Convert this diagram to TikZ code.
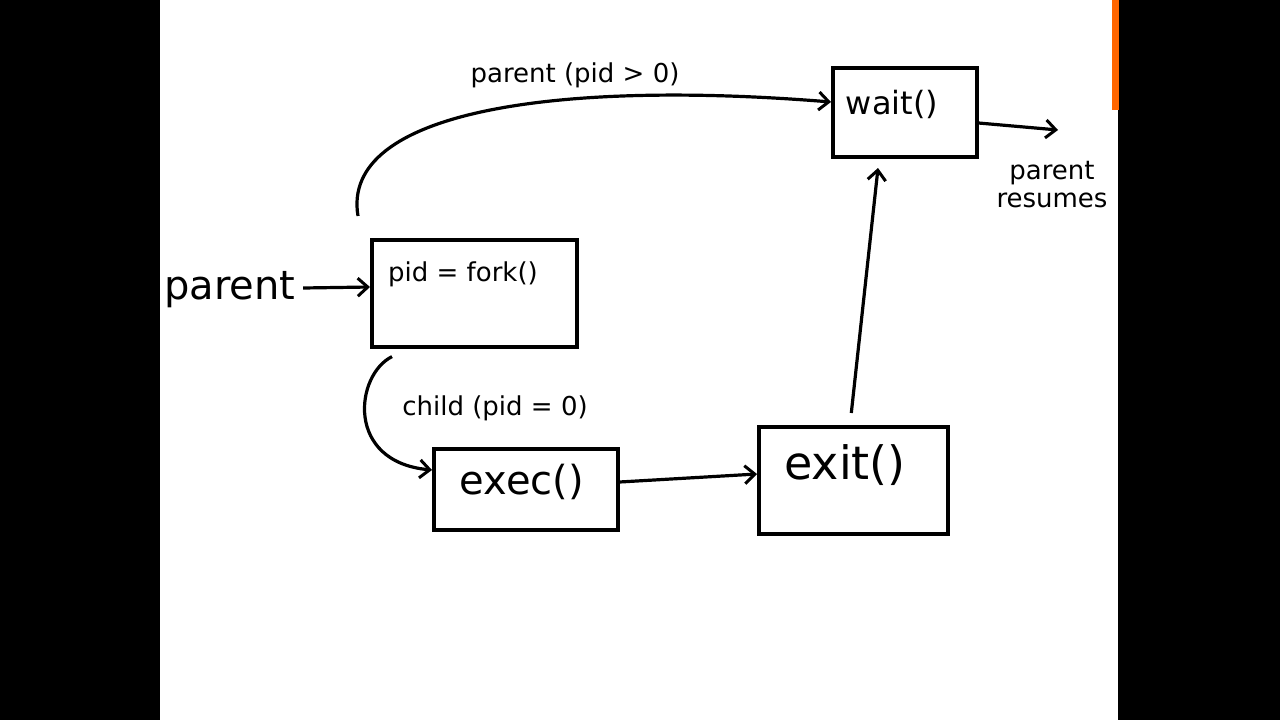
\documentclass[tikz,border=0pt]{standalone}
\usepackage{fontspec}
\setmainfont{DejaVu Sans}
\usetikzlibrary{arrows.meta}
\begin{document}
\begin{tikzpicture}[x=1pt,y=-1pt,
  box/.style={draw=black,line width=3.6pt,inner sep=0pt,anchor=north west},
  arr/.style={draw=black,line width=3.2pt,-{Straight Barb[length=10pt,width=18pt,line width=3pt]}},
  lbl/.style={font=\fontsize{26}{28}\selectfont}]
\useasboundingbox (0,0) rectangle (1280,720);
\fill[black] (0,0) rectangle (1280,720);
\fill[white] (160,0) rectangle (1118,720);
\fill[orange!80!red] (1112,0) rectangle (1119,110);
\node[box,minimum width=205pt,minimum height=107pt] (fork) at (370,238) {};
\node[lbl,font=\fontsize{26}{28}\selectfont] at (463,274) {pid = fork()};
\node[box,minimum width=184pt,minimum height=81pt] (exec) at (432,447) {};
\node[lbl,font=\fontsize{40}{42}\selectfont] at (522,482) {exec()};
\node[box,minimum width=189pt,minimum height=107pt] (exit) at (757,425) {};
\node[lbl,font=\fontsize{46}{48}\selectfont] at (845,465) {exit()};
\node[box,minimum width=144pt,minimum height=89pt] (wait) at (831,66) {};
\node[lbl,font=\fontsize{32}{34}\selectfont] at (892,104) {wait()};
\node[lbl,font=\fontsize{40}{42}\selectfont] (ptxt) at (230,290) {parent};
\node[lbl] (l1) at (575,75) {parent (pid > 0)};
\node[lbl] (l2) at (495,408) {child (pid = 0)};
\node[lbl,align=center,font=\fontsize{26}{28}\selectfont] (res) at (1052,185) {parent\\resumes};
\coordinate (re) at (1058,130);
\draw[arr] (ptxt.east) ++(4,-2) -- (fork.west |- 0,287);
\draw[arr] (fork.north west) ++(-12,-22) .. controls (340,110) and (560,80) .. (wait.west |- 0,102);
\draw[arr] (fork.south west) ++(22,8) .. controls (355,375) and (345,462) .. (exec.west |- 0,470);
\draw[arr] (exec.east |- 0,482) -- (exit.west |- 0,474);
\draw[arr] (exit.north) ++(-2,-12) -- ([xshift=47pt]wait.south west |- 0,168);
\draw[arr] (wait.east |- 0,123) -- (re);
\end{tikzpicture}
\end{document}
